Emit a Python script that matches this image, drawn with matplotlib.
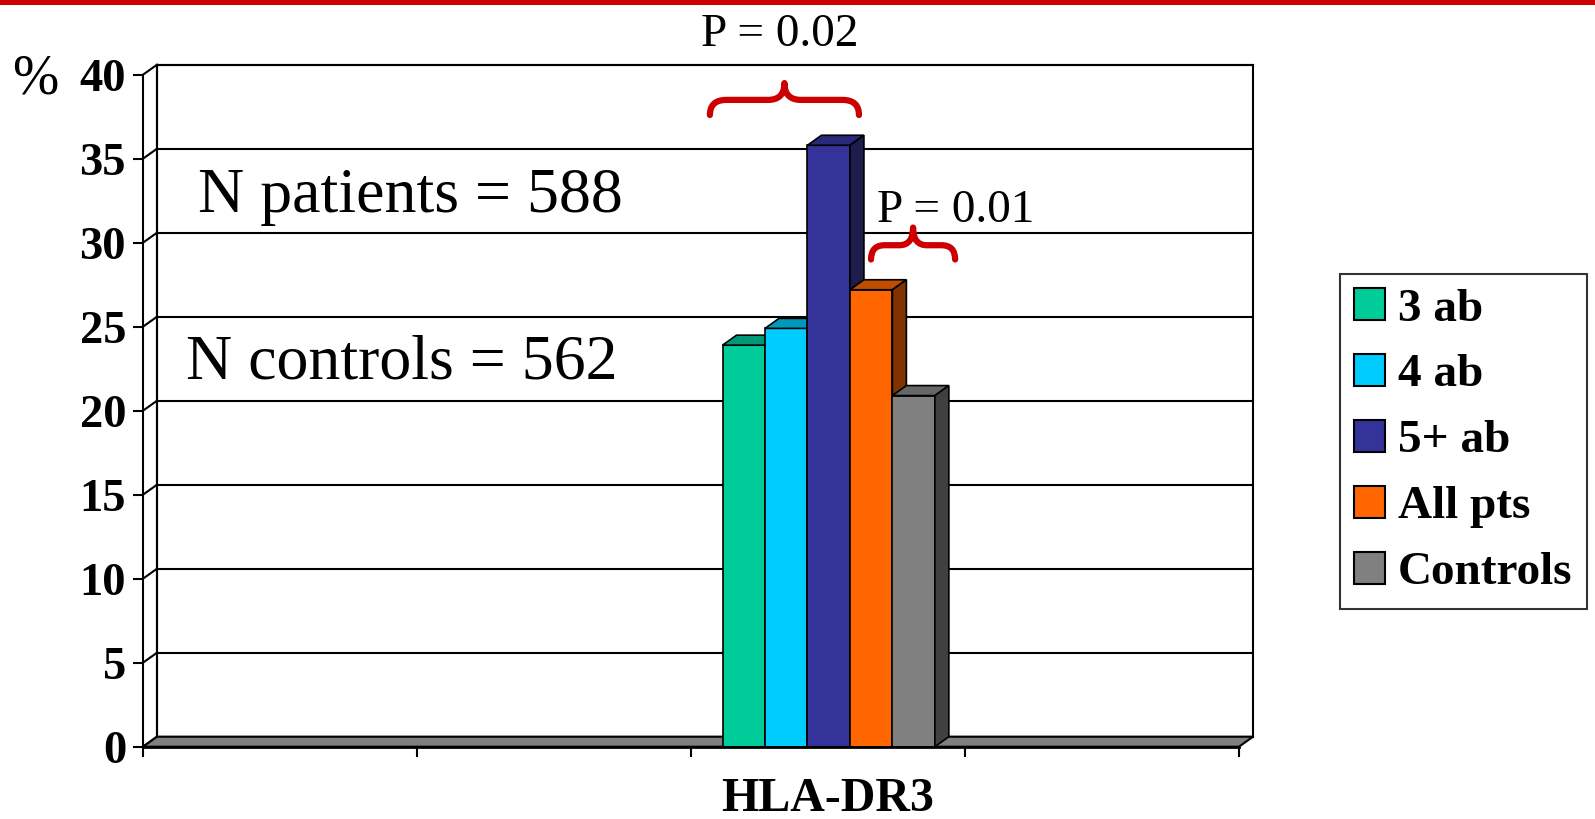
import matplotlib.pyplot as plt
from matplotlib.patches import Polygon, Rectangle, Patch, PathPatch
from matplotlib.path import Path

# Data
categories = ['', '', 'HLA-DR3', '']
series = ['3 ab', '4 ab', '5+ ab', 'All pts', 'Controls']
values = [23.9, 24.9, 35.8, 27.2, 20.9]    # % for HLA-DR3
front_colors = ['#00CC99', '#00CCFF', '#333399', '#FF6600', '#808080']
top_colors = ['#009977', '#0099BB', '#2A2A7A', '#C04C00', '#666666']
side_colors = ['#006B52', '#007A99', '#1C1C4D', '#803300', '#404040']
y_ticks = [0, 5, 10, 15, 20, 25, 30, 35, 40]

plt.rcParams['font.family'] = ['Liberation Serif', 'DejaVu Serif']

W, H = 1595, 819
fig = plt.figure(figsize=(W / 100, H / 100), dpi=100)
fig.patch.set_facecolor('white')

# red band at the top
fig.patches.append(Rectangle((0, 1 - 5 / H), 1, 5 / H, transform=fig.transFigure,
                             facecolor='#CC0000', edgecolor='none'))

left_px, right_px, bottom_px, top_px = 143, 1239, 746.7, 74.7
ax = fig.add_axes([left_px / W, 1 - bottom_px / H,
                   (right_px - left_px) / W, (bottom_px - top_px) / H])
ax.set_xlim(0, 4)
ax.set_ylim(0, 40)
ax.set_facecolor('none')

# depth offset (pixels -> data units)
DX = 14 * 4 / (right_px - left_px)
DY = 10 * 40 / (bottom_px - top_px)

# back wall with gridlines
ax.add_patch(Rectangle((DX, DY), 4, 40, facecolor='white', edgecolor='black',
                       lw=1.5, clip_on=False, zorder=0))
for t in y_ticks:
    ax.plot([DX, 4 + DX], [t + DY, t + DY], color='black', lw=1.5, clip_on=False, zorder=1)
    ax.plot([0, DX], [t, t + DY], color='black', lw=1.5, clip_on=False, zorder=1)
ax.plot([DX, DX], [DY, 40 + DY], color='black', lw=1.5, clip_on=False, zorder=1)

# floor
ax.add_patch(Polygon([(0, 0), (4, 0), (4 + DX, DY), (DX, DY)], closed=True,
                     facecolor='#808080', edgecolor='black', lw=1.5, clip_on=False, zorder=2))

# 3D bars
cat_idx = categories.index('HLA-DR3')
bw = 0.155
start = cat_idx + 0.115
for i, v in enumerate(values):
    x0 = start + i * bw
    x1 = x0 + bw
    z = 3 + i
    ax.add_patch(Rectangle((x0, 0), bw, v, facecolor=front_colors[i], edgecolor='black',
                           lw=1.2, clip_on=False, zorder=z))
    ax.add_patch(Polygon([(x0, v), (x1, v), (x1 + DX, v + DY), (x0 + DX, v + DY)],
                         closed=True, facecolor=top_colors[i], edgecolor='black',
                         lw=1.2, clip_on=False, zorder=z))
    ax.add_patch(Polygon([(x1, 0), (x1 + DX, DY), (x1 + DX, v + DY), (x1, v)],
                         closed=True, facecolor=side_colors[i], edgecolor='black',
                         lw=1.2, clip_on=False, zorder=z))

# axes
for s in ['top', 'right']:
    ax.spines[s].set_visible(False)
ax.spines['left'].set_linewidth(1.5)
ax.spines['bottom'].set_linewidth(2)
ax.spines['left'].set_zorder(20)
ax.spines['bottom'].set_zorder(20)
ax.set_yticks(y_ticks)
ax.set_yticklabels([str(t) for t in y_ticks], fontsize=33.5, fontweight='bold')
ax.set_xticks([0, 1, 2, 3, 4])
ax.set_xticklabels([])
ax.set_xticks([0.5, 1.5, 2.5, 3.5], minor=True)
ax.set_xticklabels(categories, minor=True, fontsize=34.5, fontweight='bold')
ax.tick_params(axis='y', length=7.2, width=1.5, pad=5)
ax.tick_params(axis='x', which='major', length=7.2, width=1.5)
ax.tick_params(axis='x', which='minor', length=0, pad=22)

fig.text(12 / W, 1 - 93 / H, '%', fontsize=40, va='baseline', ha='left')

# annotations
ax.text(0.20, 31.8, 'N patients = 588', fontsize=46, va='baseline', ha='left', zorder=15)
ax.text(0.157, 21.9, 'N controls = 562', fontsize=46, va='baseline', ha='left', zorder=15)
ax.text(2.325, 41.7, 'P = 0.02', fontsize=34, va='baseline', ha='center', clip_on=False)
ax.text(2.679, 31.25, 'P = 0.01', fontsize=34, va='baseline', ha='left', clip_on=False, zorder=15)


def brace(x0, x1, y_end, y_mid, y_peak, r):
    xc = (x0 + x1) / 2
    verts = [(x0, y_end), (x0, y_mid), (x0 + r, y_mid), (xc - r, y_mid),
             (xc, y_mid), (xc, y_peak), (xc, y_mid), (xc + r, y_mid),
             (x1 - r, y_mid), (x1, y_mid), (x1, y_end)]
    codes = [Path.MOVETO, Path.CURVE3, Path.CURVE3, Path.LINETO,
             Path.CURVE3, Path.CURVE3, Path.CURVE3, Path.CURVE3,
             Path.LINETO, Path.CURVE3, Path.CURVE3]
    ax.add_patch(PathPatch(Path(verts, codes), facecolor='none', edgecolor='#CC0000',
                           lw=4.5, capstyle='round', joinstyle='round',
                           clip_on=False, zorder=16))


brace(2.069, 2.613, 37.6, 38.5, 39.5, 0.06)
brace(2.657, 2.964, 29.0, 29.85, 30.9, 0.05)

# legend
handles = [Patch(facecolor=c, edgecolor='black', lw=1.5) for c in front_colors]
leg = ax.legend(handles, series, loc='upper left', bbox_to_anchor=(1340 / W, 1 - 274 / H),
                bbox_transform=fig.transFigure, borderaxespad=0, fancybox=False,
                prop={'family': 'Liberation Serif', 'weight': 'bold', 'size': 34},
                handlelength=0.65, handleheight=0.65, handletextpad=0.28,
                labelspacing=0.5, borderpad=0.3)
leg.get_frame().set_edgecolor('black')
leg.get_frame().set_linewidth(1.5)

fig.savefig('out.png', dpi=100)
